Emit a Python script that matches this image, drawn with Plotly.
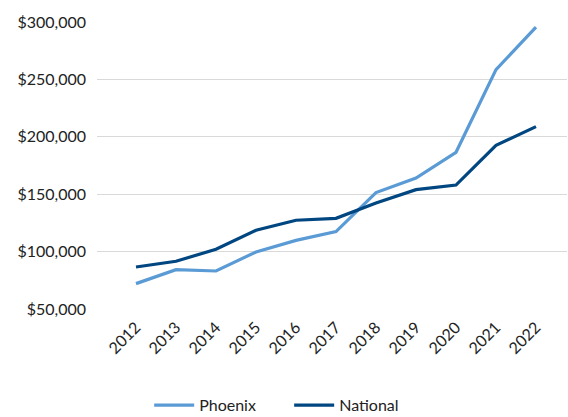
import plotly.graph_objects as go

years = ["2012", "2013", "2014", "2015", "2016", "2017", "2018", "2019", "2020", "2021", "2022"]
phoenix = [72100, 84300, 83100, 99700, 109800, 117400, 151400, 164100, 186500, 258500, 295600]
national = [86600, 91600, 102000, 118600, 127300, 129000, 142300, 154000, 158000, 192600, 208900]
y_ticks = [50000, 100000, 150000, 200000, 250000, 300000]
y_tick_labels = ["$50,000", "$100,000", "$150,000", "$200,000", "$250,000", "$300,000"]

FONT = "Lato"
fig = go.Figure()
fig.add_trace(go.Scatter(x=years, y=phoenix, name="Phoenix", mode="lines",
                         line=dict(color="#5B9BD5", width=3.2)))
fig.add_trace(go.Scatter(x=years, y=national, name="National", mode="lines",
                         line=dict(color="#004680", width=3.2)))

fig.update_layout(
    width=568, height=417,
    margin=dict(l=97, r=1, t=22, b=108, autoexpand=False),
    paper_bgcolor="white", plot_bgcolor="white",
    font=dict(family=FONT, size=16, color="#222222"),
    showlegend=True,
    legend=dict(orientation="h", x=0.111, xanchor="left", y=-0.335, yanchor="middle",
                font=dict(size=16, color="#222222"), entrywidth=85, entrywidthmode="pixels",
                itemwidth=40),
    xaxis=dict(type="category", range=[-0.975, 10.775], tickangle=-45, automargin=False,
               showgrid=False, showline=False, zeroline=False, ticks="",
               tickfont=dict(size=16, color="#222222"), ticklabelstandoff=5),
    yaxis=dict(range=[50000, 300000], tickvals=y_ticks, ticktext=y_tick_labels, automargin=False,
               showgrid=True, gridcolor="#d9d9d9", gridwidth=1.3, zeroline=False,
               showline=False, ticks="", ticklabelstandoff=10,
               tickfont=dict(size=16, color="#222222")),
)
fig.write_html("out.html", config={"displayModeBar": False},
               post_script="document.body.style.margin='0';document.body.style.overflow='hidden';")
